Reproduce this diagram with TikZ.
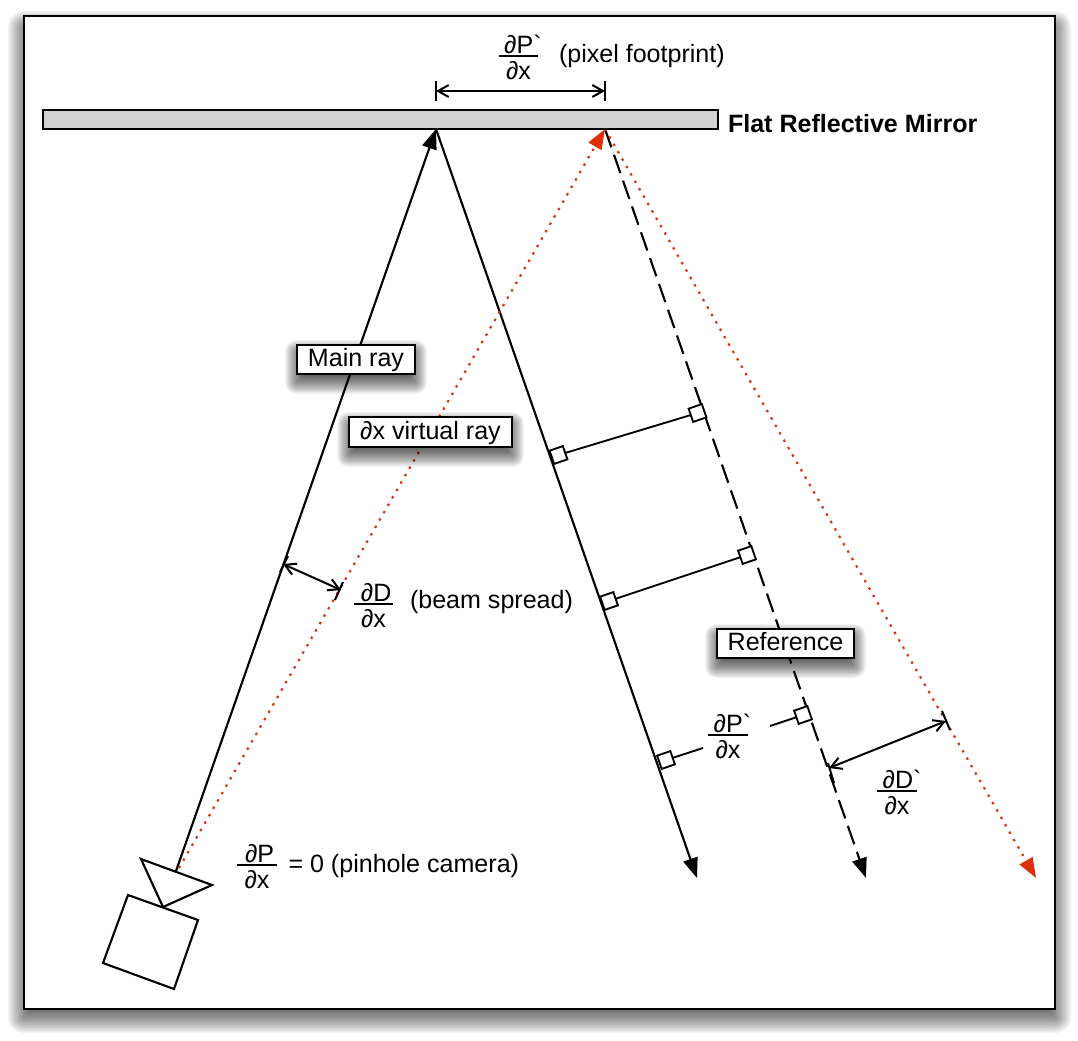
\documentclass[tikz,border=0pt]{standalone}
\usepackage{fontspec}
\setmainfont{Liberation Sans}
\newfontfamily\nomap{Liberation Sans}
\usetikzlibrary{arrows.meta}
\definecolor{rayred}{RGB}{222,48,8}
\definecolor{mirrorgray}{RGB}{211,211,211}
\newcommand{\pfrac}[3][4pt]{\vtop{\offinterlineskip\hsize=29.5pt
  \hbox to 29.5pt{\hfil\kern#1 #2\hfil}\kern1.6pt\hrule height .9pt
  \setbox0\hbox to 29.5pt{\hfil #3\hfil}\kern\dimexpr17pt-\ht0\relax\box0}}
\newcommand{\softshadow}[5]{% x1 y1 x2 y2 spread
  \foreach \k in {0,...,19}{
    \pgfmathsetmacro{\g}{#5*(1-2*\k/19)}
    \pgfmathsetmacro{\r}{max(\g,0.01)*0.75}
    \fill[black,opacity=0.055,rounded corners=\r pt]
      ({#1-\g},{#2-\g}) rectangle ({#3+\g},{#4+\g});
  }}
\tikzset{
  x=0.75pt,y=-0.75pt,
  every node/.style={font=\nomap\fontsize{18.8}{22}\selectfont,inner sep=0pt,outer sep=0pt},
  lbl/.style={anchor=base west},
  fr/.style={anchor=base},
  thinblk/.style={line width=1.5pt,black},
  ray/.style={line width=1.6pt,black,-{Triangle[length=15pt,width=11pt]}},
  refray/.style={line width=1.6pt,black,dash pattern=on 14.5pt off 6pt,-{Triangle[length=15pt,width=11pt]}},
  redray/.style={line width=1.6pt,rayred,dash pattern=on 1.8pt off 4.6pt,-{Triangle[length=15pt,width=11pt,rayred]}},
  dimarrow/.style={line width=1.5pt,black,{Straight Barb[length=8pt,width=9pt]}-{Straight Barb[length=8pt,width=9pt]}},
  tag/.style={draw,line width=1.6pt,fill=white,rectangle,text height=15pt,text depth=4pt},
  perp/.style={draw,line width=1.4pt,fill=white,rectangle,minimum size=10.5pt,rotate=19},
  cam/.style={line width=1.6pt,black,fill=white,line join=miter},
}
\begin{document}
\begin{tikzpicture}
\useasboundingbox (0,0) rectangle (1078,1040);
% frame
\softshadow{24}{27}{1055}{1017}{16}
\node[draw,line width=1.6pt,fill=white,rectangle,anchor=north west,minimum width=773.25pt,minimum height=744.75pt] (frame) at (24,16) {};
% anchors
\coordinate (camtop) at (176,871);
\coordinate (redstart) at (179,868);
\coordinate (hitA) at (436,129);
\coordinate (hitB) at (605,129);
\coordinate (endA) at (697,878);
\coordinate (endB) at (866,878);
\coordinate (endC) at (1036,878);
% rays
\draw[ray] (camtop) -- (hitA);
\draw[ray] (hitA) -- (endA);
\draw[refray] (hitB) -- (endB);
\draw[redray] (hitB) -- (endC);
\draw[redray] (redstart) -- (hitB);
% mirror
\node[draw,line width=1.6pt,fill=mirrorgray,rectangle,anchor=north west,minimum width=506.25pt,minimum height=14.25pt] (mirror) at (43,110) {};
\node[lbl,font=\nomap\fontsize{18.8}{22}\selectfont\bfseries] (mirrorlabel) at (728,132) {Flat Reflective Mirror};
% pixel footprint dimension
\coordinate (tAa) at (436,81); \coordinate (tAb) at (436,101);
\coordinate (tBa) at (605,81); \coordinate (tBb) at (605,101);
\coordinate (dAm) at (436,91); \coordinate (dBm) at (605,91);
\draw[thinblk] (tAa) -- (tAb);
\draw[thinblk] (tBa) -- (tBb);
\draw[dimarrow] (dAm) -- (dBm);
\node[fr] (fracTop) at (518.5,53) {\pfrac{∂P`}{∂x}};
\node[lbl] (pixlabel) at (559,62) {(pixel footprint)};
% perpendicular markers
\coordinate (p1a) at (558.5,455);
\coordinate (p1b) at (697.5,413);
\coordinate (p2a) at (609,601);
\coordinate (p2b) at (747,555);
\draw[line width=1.4pt] (p1a) -- (p1b);
\draw[line width=1.4pt] (p2a) -- (p2b);
\node[perp] (s1a) at (p1a) {};
\node[perp] (s1b) at (p1b) {};
\node[perp] (s2a) at (p2a) {};
\node[perp] (s2b) at (p2b) {};
\node[perp] (s3a) at (666,760) {};
\node[perp] (s3b) at (803,715) {};
\coordinate (g3a) at (703,748);
\coordinate (g3b) at (770,726);
\draw[line width=1.4pt] (s3a) -- (g3a);
\draw[line width=1.4pt] (g3b) -- (s3b);
\node[fr] (fracP) at (728,732) {\pfrac{∂P`}{∂x}};
% beam spread
\coordinate (bAa) at (288,556); \coordinate (bAb) at (280,572);
\coordinate (bBa) at (343,582); \coordinate (bBb) at (335,600);
\coordinate (bAm) at (283,564); \coordinate (bBm) at (341,590);
\draw[thinblk] (bAa) -- (bAb);
\draw[thinblk] (bBa) -- (bBb);
\draw[dimarrow] (bAm) -- (bBm);
\node[fr] (fracD) at (373.5,601) {\pfrac{∂D}{∂x}};
\node[lbl] (beamlabel) at (410,608) {(beam spread)};
% D' dimension
\coordinate (cAa) at (942,711); \coordinate (cAb) at (950,730);
\coordinate (cBa) at (828,763); \coordinate (cBb) at (834,783);
\coordinate (cAm) at (946,721); \coordinate (cBm) at (829,768);
\draw[thinblk] (cAa) -- (cAb);
\draw[thinblk] (cBa) -- (cBb);
\draw[dimarrow] (cBm) -- (cAm);
\node[fr] (fracDp) at (897,788) {\pfrac{∂D`}{∂x}};
% tags
\softshadow{297}{352}{415}{382}{12}
\node[tag,anchor=north west,minimum width=88.5pt,minimum height=21.75pt] (mainray) at (297,345) {Main ray};
\softshadow{349}{424}{512}{455}{12}
\node[tag,anchor=north west,minimum width=122.25pt,minimum height=22.5pt] (vray) at (349,417) {∂x virtual ray};
\softshadow{717}{636}{854}{666}{12}
\node[tag,anchor=north west,minimum width=102.75pt,minimum height=21.75pt] (reftag) at (717,629) {Reference};
% camera
\coordinate (cA) at (141,859); \coordinate (cB) at (212,885); \coordinate (cC) at (163,907);
\coordinate (cD) at (128,895); \coordinate (cE) at (198,920); \coordinate (cF) at (174,989); \coordinate (cG) at (103,963);
\draw[cam] (cA) -- (cB) -- (cC) -- cycle;
\draw[cam] (cD) -- (cE) -- (cF) -- (cG) -- cycle;
\node[fr] (fracPin) at (257,862) {\pfrac{∂P}{∂x}};
\node[lbl] (pinlabel) at (288.5,872) {= 0 (pinhole camera)};
\end{tikzpicture}
\end{document}
